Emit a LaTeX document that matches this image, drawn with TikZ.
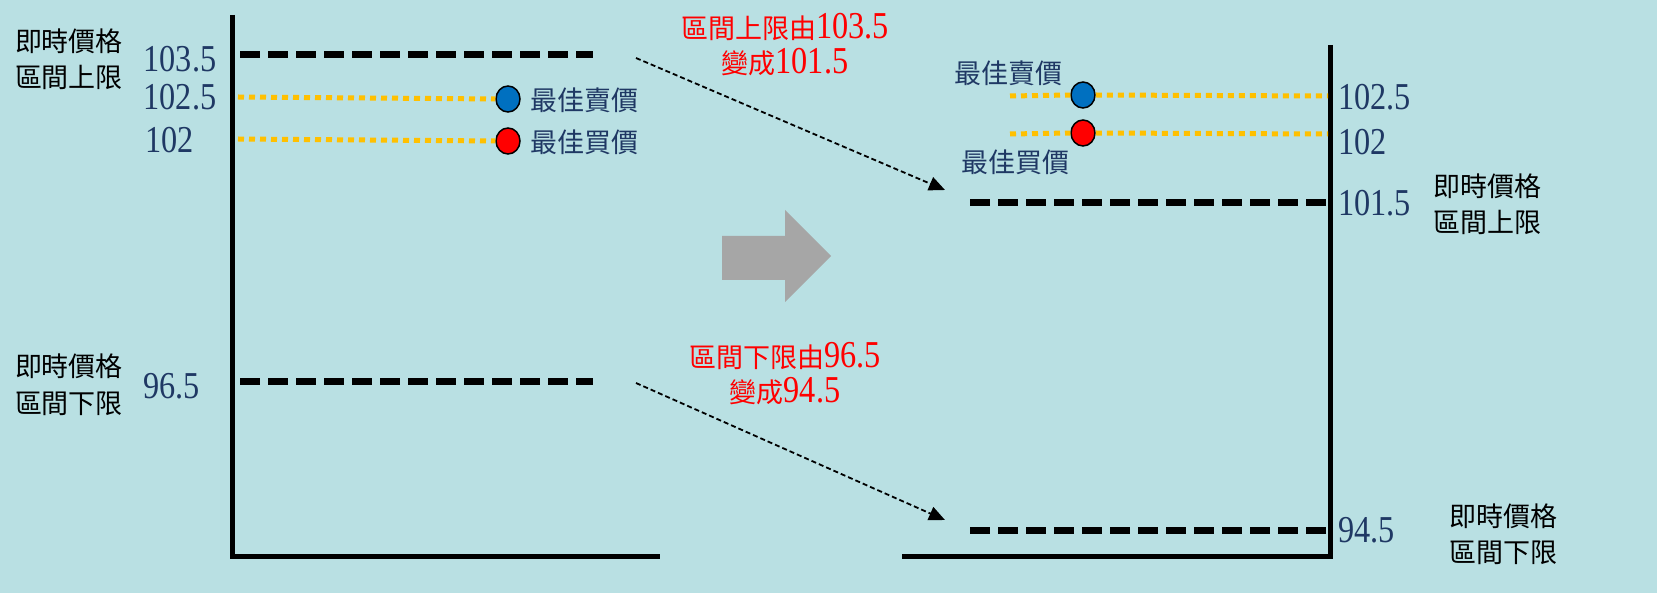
\documentclass[tikz,border=0pt]{standalone}
\usepackage{fontspec}
\setmainfont{Liberation Serif}
\newfontfamily\cjk{Noto Sans CJK TC}
\newfontfamily\numf[FakeStretch=0.85]{Liberation Serif}
\usetikzlibrary{arrows.meta}
\usetikzlibrary{shapes.geometric}
\definecolor{bg}{RGB}{185,224,227}
\definecolor{navy}{RGB}{31,56,100}
\definecolor{gold}{RGB}{255,192,0}
\definecolor{dotblue}{RGB}{0,112,192}
\definecolor{grayarr}{RGB}{166,166,166}
\newcommand\nm[1]{{\numf\fontsize{38}{38}\selectfont #1}}
\tikzset{
  cj/.style={font=\cjk\fontsize{27}{30}\selectfont, inner sep=0pt},
  lbl/.style={cj, text=black},
  nav/.style={cj, text=navy},
  red/.style={cj, text=red},
  num/.style={inner sep=0pt, text=navy, font=\numf\fontsize{38}{38}\selectfont},
  axis/.style={line width=5pt, black},
  limit/.style={line width=7pt, black, dash pattern=on 20pt off 8pt},
  quote/.style={line width=5pt, gold, dash pattern=on 6pt off 5pt},
  move/.style={line width=1.8pt, black, dash pattern=on 5pt off 3pt, -{Triangle[length=16pt,width=14pt]}},
  dot/.style={ellipse, draw=black, line width=1.5pt, minimum width=24pt, minimum height=26pt, inner sep=0pt}
}
\begin{document}
\begin{tikzpicture}[x=1pt,y=-1pt]
\fill[bg] (0,0) rectangle (1657,593);
\useasboundingbox (0,0) rectangle (1657,593);
% coordinates
\coordinate (la0) at (232,15);
\coordinate (la1) at (232,556);
\coordinate (la2) at (660,556);
\coordinate (ra0) at (1330,45);
\coordinate (ra1) at (1330,556);
\coordinate (ra2) at (902,556);
\coordinate (lu0) at (240,55);  \coordinate (lu1) at (593,55);
\coordinate (ll0) at (240,382); \coordinate (ll1) at (593,382);
\coordinate (ru0) at (970,203); \coordinate (ru1) at (1328,203);
\coordinate (rl0) at (970,530); \coordinate (rl1) at (1328,530);
\coordinate (lq1) at (238,97);  \coordinate (lq2) at (238,139);
\coordinate (rq1a) at (1010,96); \coordinate (rq1b) at (1328,96);
\coordinate (rq2a) at (1010,134); \coordinate (rq2b) at (1328,134);
\coordinate (m1a) at (636,58);  \coordinate (m1b) at (945,190);
\coordinate (m2a) at (636,383); \coordinate (m2b) at (945,520);

% axes
\draw[axis] (la0) -- (la1) -- (la2);
\draw[axis] (ra0) -- (ra1) -- (ra2);

% limit lines
\draw[limit] (lu0) -- (lu1);
\draw[limit] (ll0) -- (ll1);
\draw[limit] (ru0) -- (ru1);
\draw[limit] (rl0) -- (rl1);

% quotes left
\node[dot, fill=dotblue] (bl) at (508,99) {};
\node[dot, fill=red] (rl) at (508,141) {};
\draw[quote] (lq1) -- (bl.west);
\draw[quote] (lq2) -- (rl.west);

% quotes right
\node[dot, fill=dotblue] (br) at (1083,95) {};
\node[dot, fill=red] (rr) at (1083,133) {};
\draw[quote] (rq1a) -- (br.west);
\draw[quote] (br.east) -- (rq1b);
\draw[quote] (rq2a) -- (rr.west);
\draw[quote] (rr.east) -- (rq2b);

% moves
\draw[move] (m1a) -- (m1b);
\draw[move] (m2a) -- (m2b);

% gray arrow
\fill[grayarr] (722,236) -- (785,236) -- (785,210) -- (831,256) -- (785,302) -- (785,280) -- (722,280) -- cycle;

% left labels
\node[lbl] (t1a) at (69,41) {即時價格};
\node[lbl] (t1b) at (69,77) {區間上限};
\node[lbl] (t2a) at (69,366) {即時價格};
\node[lbl] (t2b) at (69,404) {區間下限};
\node[num] (n1035) at (180,59) {103.5};
\node[num] (n1025) at (180,97) {102.5};
\node[num, anchor=west] (n102) at (145,140) {102};
\node[num, anchor=west] (n965) at (143,386) {96.5};
\node[nav, anchor=west] (s1) at (530,100) {最佳賣價};
\node[nav, anchor=west] (b1) at (530,142) {最佳買價};

% right labels
\node[nav] (s2) at (1008,73) {最佳賣價};
\node[nav] (b2) at (1015,162) {最佳買價};
\node[num, anchor=west] (n1025r) at (1338,97) {102.5};
\node[num, anchor=west] (n102r) at (1338,142) {102};
\node[num, anchor=west] (n1015) at (1338,203) {101.5};
\node[num, anchor=west] (n945) at (1338,530) {94.5};
\node[lbl] (t3a) at (1487,186) {即時價格};
\node[lbl] (t3b) at (1487,222) {區間上限};
\node[lbl] (t4a) at (1503,516) {即時價格};
\node[lbl] (t4b) at (1503,553) {區間下限};

% red notes
\node[red] (r1a) at (785,27) {區間上限由\nm{103.5}};
\node[red] (r1b) at (785,62) {變成\nm{101.5}};
\node[red] (r2a) at (785,356) {區間下限由\nm{96.5}};
\node[red] (r2b) at (785,391) {變成\nm{94.5}};
\end{tikzpicture}
\end{document}
